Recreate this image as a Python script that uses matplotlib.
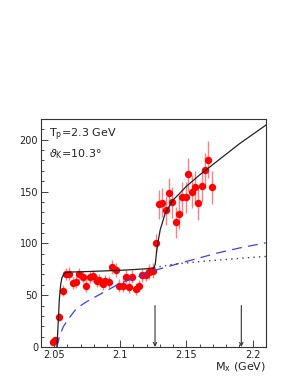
import matplotlib
matplotlib.use("Agg")
import matplotlib.pyplot as plt

# data points
mx = [2.0490, 2.0511, 2.0540, 2.0566, 2.0591, 2.0616, 2.0642, 2.0664, 2.0692, 2.0717,
      2.0742, 2.0772, 2.0797, 2.0823, 2.0843, 2.0868, 2.0888, 2.0914, 2.0941, 2.0969,
      2.0989, 2.1019, 2.1042, 2.1067, 2.1092, 2.1120, 2.1140, 2.1167, 2.1195, 2.1220,
      2.1246, 2.1268, 2.1293, 2.1318, 2.1344, 2.1369, 2.1394, 2.1420, 2.1445, 2.1470,
      2.1495, 2.1515, 2.1540, 2.1565, 2.1590, 2.1616, 2.1641, 2.1666, 2.1692]
cnt = [4.5, 6.8, 28.7, 54.4, 70.5, 70.8, 61.5, 62.8, 70.5, 67.6,
       59.2, 67.3, 68.6, 63.5, 64.7, 60.9, 63.5, 62.5, 77.0, 74.4,
       59.2, 59.2, 68.0, 58.3, 68.0, 55.7, 59.0, 69.0, 69.5, 72.8,
       73.8, 100.0, 137.8, 139.4, 131.7, 148.5, 139.7, 120.5, 128.5, 144.6,
       144.6, 166.8, 150.0, 154.0, 138.8, 155.6, 170.3, 180.7, 154.2]
err = [2.5, 3, 4, 5, 6, 6, 6, 6, 6, 6,
       6, 6, 6, 6, 6, 6, 6, 6, 7, 7,
       6, 6, 6, 6, 6, 6, 6, 6, 6, 7,
       7, 9, 14, 14, 14, 15, 15, 15, 15, 15,
       15, 16, 16, 16, 16, 16, 17, 18, 16]

# full model (solid)
full_x = [2.0522, 2.0530, 2.0540, 2.0550, 2.0559, 2.0575, 2.0590, 2.0620, 2.0700, 2.0800,
          2.0900, 2.1000, 2.1100, 2.1200, 2.1255, 2.1265, 2.1275, 2.1288, 2.1302, 2.1340,
          2.1400, 2.1440, 2.1500, 2.1600, 2.1700, 2.1800, 2.1900, 2.2000, 2.2100]
full_y = [0.0, 20.0, 46.0, 60.0, 66.5, 70.5, 71.8, 72.3, 72.6, 73.0,
          73.5, 74.0, 74.7, 75.5, 76.5, 80.0, 92.0, 103.0, 113.0, 129.0,
          142.0, 147.0, 155.0, 166.0, 176.0, 186.0, 196.0, 205.0, 214.0]

# background without resonance (dotted)
dot_x = [2.1255, 2.1400, 2.1600, 2.1800, 2.2000, 2.2100]
dot_y = [76.5, 79.8, 82.4, 84.5, 86.5, 87.3]

# phase space (dashed)
ps_x = [2.0522, 2.0540, 2.0570, 2.0620, 2.0672, 2.0750, 2.0835, 2.1000, 2.1175, 2.1263,
        2.1427, 2.1600, 2.1729, 2.1900, 2.2100]
ps_y = [0.0, 10.0, 19.6, 29.0, 37.5, 44.0, 50.0, 61.5, 69.6, 74.0,
        80.0, 86.0, 90.5, 95.5, 100.5]

arrow_x = [2.1263, 2.1915]
arrow_top = 40

fig = plt.figure(figsize=(3.0, 3.82), dpi=100)
ax = fig.add_axes([0.136, 0.0916, 0.750, 0.597])

ax.errorbar(mx, cnt, yerr=err, fmt='none', ecolor=(1.0, 0.5, 0.5), elinewidth=1.0, zorder=2)
ax.plot(mx, cnt, 'o', color='red', markersize=5.3, markeredgewidth=0, zorder=3)

ax.plot(ps_x, ps_y, color='#3344ee', lw=0.9, dashes=(8, 5), zorder=4)
ax.plot(dot_x, dot_y, color='#444444', lw=1.0, linestyle=(0, (1, 3)), zorder=4)
ax.plot(full_x, full_y, color='#222222', lw=0.9, zorder=5)

for xa in arrow_x:
    ax.annotate('', xy=(xa, 0), xytext=(xa, arrow_top),
                arrowprops=dict(arrowstyle='->', color='#333333', lw=0.8,
                                shrinkA=0, shrinkB=0, mutation_scale=6))

ax.set_xlim(2.04, 2.21)
ax.set_ylim(0, 220)
ax.set_xticks([2.05, 2.1, 2.15, 2.2])
ax.set_xticklabels(['2.05', '2.1', '2.15', '2.2'])
ax.set_yticks([0, 50, 100, 150, 200])
ax.set_xticks([2.04 + 0.01 * i for i in range(18)], minor=True)
ax.set_yticks(list(range(0, 221, 10)), minor=True)
ax.tick_params(axis='both', which='major', direction='in', length=5, width=0.6,
               labelsize=7, colors='#222222', pad=2)
ax.tick_params(axis='both', which='minor', direction='in', length=2.5, width=0.5)
for s in ax.spines.values():
    s.set_linewidth(0.8)
    s.set_color('#333333')

ax.text(0.035, 0.93, r'T$_\mathrm{p}$=2.3 GeV', transform=ax.transAxes,
        fontsize=8, color='#222222', va='center', ha='left')
ax.text(0.035, 0.845, r'$\vartheta_\mathrm{K}$=10.3°', transform=ax.transAxes,
        fontsize=8, color='#222222', va='center', ha='left')

fig.text(0.886, 0.038, r'M$_\mathrm{x}$ (GeV)', fontsize=8, color='#222222',
         ha='right', va='center')

fig.savefig('out.png', dpi=100)
